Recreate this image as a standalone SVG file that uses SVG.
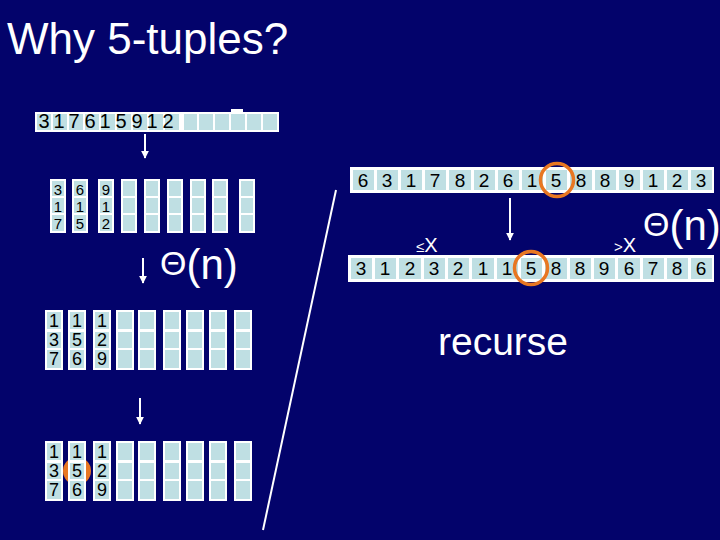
<svg xmlns="http://www.w3.org/2000/svg" width="720" height="540" viewBox="0 0 720 540">
<defs>
<style>
.bg{fill:#03036b}
.w{fill:#ffffff}
.c{fill:#bfdfe3}
.t{font-family:"Liberation Sans",Arial,sans-serif;fill:#000000;text-anchor:middle}
.wt{font-family:"Liberation Sans",Arial,sans-serif;fill:#ffffff}
.ln{stroke:#ffffff;stroke-width:2;fill:none}
.ring{fill:none;stroke:#e87722;stroke-width:3.5}
</style>
<marker id="ah" viewBox="0 0 10 10" refX="9" refY="5" markerWidth="4" markerHeight="4" orient="auto">
<path d="M0,0 L10,5 L0,10 z" fill="#ffffff"/>
</marker>
<g id="col1">
<rect class="w" x="0" y="0" width="16" height="54"/>
<rect class="c" x="2" y="2" width="12" height="15"/>
<rect class="c" x="2" y="19" width="12" height="15"/>
<rect class="c" x="2" y="36" width="12" height="16"/>
</g>
<g id="col2">
<rect class="w" x="0" y="0" width="18" height="60"/>
<rect class="c" x="2" y="2" width="14" height="17"/>
<rect class="c" x="2" y="22" width="14" height="16"/>
<rect class="c" x="2" y="40" width="14" height="18"/>
</g>
</defs>
<rect class="bg" x="0" y="0" width="720" height="540"/>

<g id="title">
<text class="wt" x="7" y="54" font-size="44">Why 5-tuples?</text>
</g>

<g id="input-strip">
<rect class="w" x="35" y="112" width="244" height="20"/>
<rect class="w" x="231" y="109" width="12" height="4"/>
<g class="c">
<rect x="37" y="114" width="14" height="16"/><rect x="53" y="114" width="14" height="16"/><rect x="69" y="114" width="14" height="16"/><rect x="85" y="114" width="14" height="16"/><rect x="101" y="114" width="14" height="16"/><rect x="117" y="114" width="14" height="16"/><rect x="133" y="114" width="14" height="16"/><rect x="149" y="114" width="14" height="16"/><rect x="165" y="114" width="14" height="16"/><rect x="184" y="114" width="13" height="16"/><rect x="199" y="114" width="14" height="16"/><rect x="215" y="114" width="14" height="16"/><rect x="231" y="114" width="14" height="16"/><rect x="247" y="114" width="14" height="16"/><rect x="263" y="114" width="14" height="16"/>
</g>
<g class="t" font-size="20">
<text x="44" y="128">3</text><text x="59" y="128">1</text><text x="74" y="128">7</text><text x="90" y="128">6</text><text x="105" y="128">1</text><text x="121" y="128">5</text><text x="137" y="128">9</text><text x="152" y="128">1</text><text x="168" y="128">2</text>
</g>
</g>

<g id="tuples-1">
<use href="#col1" x="50" y="179"/><use href="#col1" x="72" y="179"/><use href="#col1" x="98" y="179"/><use href="#col1" x="121" y="179"/><use href="#col1" x="144" y="179"/><use href="#col1" x="167" y="179"/><use href="#col1" x="190" y="179"/><use href="#col1" x="212" y="179"/><use href="#col1" x="239" y="179"/>
<g class="t" font-size="15">
<text x="58" y="195">3</text><text x="58" y="212">1</text><text x="58" y="229">7</text>
<text x="80" y="195">6</text><text x="80" y="212">1</text><text x="80" y="229">5</text>
<text x="106" y="195">9</text><text x="106" y="212">1</text><text x="106" y="229">2</text>
</g>
</g>

<g id="tuples-2">
<use href="#col2" x="45" y="310"/><use href="#col2" x="68" y="310"/><use href="#col2" x="93" y="310"/><use href="#col2" x="116" y="310"/><use href="#col2" x="138" y="310"/><use href="#col2" x="163" y="310"/><use href="#col2" x="186" y="310"/><use href="#col2" x="209" y="310"/><use href="#col2" x="234" y="310"/>
<g class="t" font-size="18">
<text x="54" y="327">1</text><text x="54" y="346">3</text><text x="54" y="365">7</text>
<text x="77" y="327">1</text><text x="77" y="346">5</text><text x="77" y="365">6</text>
<text x="102" y="327">1</text><text x="102" y="346">2</text><text x="102" y="365">9</text>
</g>
</g>

<g id="tuples-3">
<circle cx="77" cy="471" r="14" fill="#e87722"/>
<use href="#col2" x="45" y="441"/><use href="#col2" x="68" y="441"/><use href="#col2" x="93" y="441"/><use href="#col2" x="116" y="441"/><use href="#col2" x="138" y="441"/><use href="#col2" x="163" y="441"/><use href="#col2" x="186" y="441"/><use href="#col2" x="209" y="441"/><use href="#col2" x="234" y="441"/>
<g class="t" font-size="18">
<text x="54" y="458">1</text><text x="54" y="477">3</text><text x="54" y="496">7</text>
<text x="77" y="458">1</text><text x="77" y="477">5</text><text x="77" y="496">6</text>
<text x="102" y="458">1</text><text x="102" y="477">2</text><text x="102" y="496">9</text>
</g>
</g>

<g id="theta-left">
<text class="wt" x="160" y="279" font-size="42"><tspan font-size="34" dy="-4">Θ</tspan><tspan dy="4">(n)</tspan></text>
</g>

<g id="array-top">
<rect class="w" x="350" y="167" width="364" height="26"/>
<g class="c">
<rect x="353" y="170" width="21" height="20"/><rect x="377" y="170" width="21" height="20"/><rect x="401" y="170" width="21" height="20"/><rect x="425" y="170" width="21" height="20"/><rect x="449" y="170" width="22" height="20"/><rect x="474" y="170" width="21" height="20"/><rect x="498" y="170" width="21" height="20"/><rect x="522" y="170" width="21" height="20"/><rect x="546" y="170" width="21" height="20"/><rect x="570" y="170" width="22" height="20"/><rect x="595" y="170" width="21" height="20"/><rect x="619" y="170" width="21" height="20"/><rect x="643" y="170" width="21" height="20"/><rect x="667" y="170" width="21" height="20"/><rect x="691" y="170" width="21" height="20"/>
</g>
<g class="t" font-size="19">
<text x="363" y="187">6</text><text x="387" y="187">3</text><text x="411" y="187">1</text><text x="435" y="187">7</text><text x="460" y="187">8</text><text x="484" y="187">2</text><text x="508" y="187">6</text><text x="532" y="187">1</text><text x="556" y="187">5</text><text x="581" y="187">8</text><text x="605" y="187">8</text><text x="629" y="187">9</text><text x="653" y="187">1</text><text x="677" y="187">2</text><text x="701" y="187">3</text>
</g>
<circle class="ring" cx="557" cy="180" r="16.5"/>
</g>

<g id="array-bottom">
<rect class="w" x="348" y="255" width="366" height="27"/>
<g class="c">
<rect x="351" y="258" width="21" height="21"/><rect x="375" y="258" width="21" height="21"/><rect x="399" y="258" width="22" height="21"/><rect x="424" y="258" width="21" height="21"/><rect x="448" y="258" width="21" height="21"/><rect x="472" y="258" width="22" height="21"/><rect x="497" y="258" width="21" height="21"/><rect x="521" y="258" width="21" height="21"/><rect x="545" y="258" width="22" height="21"/><rect x="570" y="258" width="21" height="21"/><rect x="594" y="258" width="21" height="21"/><rect x="618" y="258" width="22" height="21"/><rect x="643" y="258" width="21" height="21"/><rect x="667" y="258" width="21" height="21"/><rect x="691" y="258" width="21" height="21"/>
</g>
<g class="t" font-size="19">
<text x="361" y="275">3</text><text x="385" y="275">1</text><text x="410" y="275">2</text><text x="434" y="275">3</text><text x="458" y="275">2</text><text x="483" y="275">1</text><text x="507" y="275">1</text><text x="531" y="275">5</text><text x="556" y="275">8</text><text x="580" y="275">8</text><text x="604" y="275">9</text><text x="629" y="275">6</text><text x="653" y="275">7</text><text x="677" y="275">8</text><text x="701" y="275">6</text>
</g>
<circle class="ring" cx="531" cy="268" r="16.5"/>
</g>

<g id="label-le">
<text class="wt" x="416" y="252" font-size="20"><tspan font-size="15">≤</tspan>X</text>
</g>
<g id="label-gt">
<text class="wt" x="614" y="252" font-size="20"><tspan font-size="15">&gt;</tspan>X</text>
</g>
<g id="theta-right">
<text class="wt" x="643" y="240" font-size="42"><tspan font-size="34" dy="-4">Θ</tspan><tspan dy="4">(n)</tspan></text>
</g>
<g id="recurse">
<text class="wt" x="438" y="355" font-size="39">recurse</text>
</g>

<g id="connectors">
<line class="ln" x1="145" y1="134" x2="145" y2="158" marker-end="url(#ah)"/>
<line class="ln" x1="143" y1="258" x2="143" y2="283" marker-end="url(#ah)"/>
<line class="ln" x1="140" y1="398" x2="140" y2="424" marker-end="url(#ah)"/>
<line class="ln" x1="510" y1="198" x2="510" y2="240" marker-end="url(#ah)"/>
<line class="ln" x1="263" y1="530" x2="336" y2="190" stroke-width="1.5"/>
</g>
</svg>
